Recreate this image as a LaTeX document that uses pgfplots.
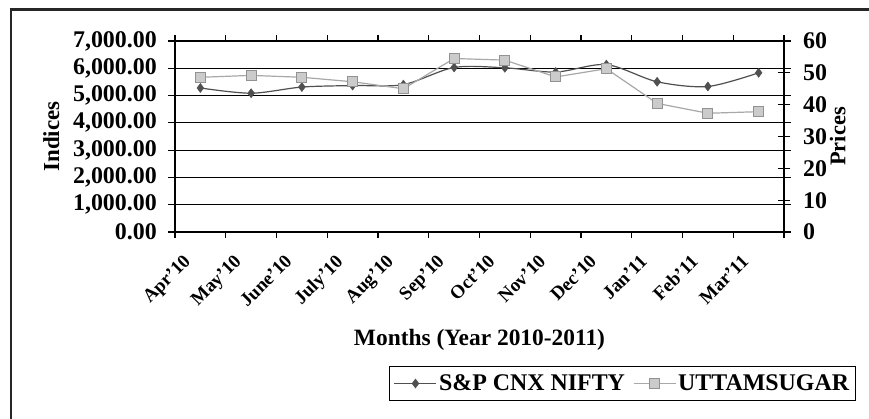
\documentclass[border=0pt]{standalone}
\usepackage{fontspec}
\setmainfont{Liberation Serif}
\usepackage{pgfplots}
\pgfplotsset{compat=1.18}
\definecolor{niftyc}{HTML}{505050}
\definecolor{uttamline}{HTML}{A8A8A8}
\definecolor{uttamfill}{HTML}{CBCBCB}
\definecolor{uttamedge}{HTML}{929292}
\begin{document}
\begin{tikzpicture}
\useasboundingbox (0,0) rectangle (869bp,-419bp);
\fill[white] (0,0) rectangle (869bp,-419bp);
\begin{axis}[
  at={(175bp,-232bp)}, anchor=south west,
  scale only axis, width=609bp, height=191bp,
  xmin=0.5, xmax=12.5, ymin=0, ymax=7000,
  ytick={0,1000,...,7000},
  ymajorgrids, grid style={black, line width=1.1bp},
  axis line style={black, line width=1.1bp},
  tick style={black, line width=1.1bp},
  ytick align=outside, major tick length=7bp,
  xtick={1,...,12},
  xticklabels={Apr'10,May'10,June'10,July'10,Aug'10,Sep'10,Oct'10,Nov'10,Dec'10,Jan'11,Feb'11,Mar'11},
  x tick style={draw=none},
  extra x ticks={0.5,1.5,...,12.5},
  extra x tick labels={},
  extra x tick style={xtick align=outside, x tick style={draw=black, line width=1.1bp}, major tick length=6bp},
  xticklabel style={xshift=-18bp, yshift=-20bp, font=\fontsize{19}{19}\selectfont\bfseries, rotate=45, anchor=north east, inner sep=1bp},
  yticklabel style={font=\fontsize{24}{24}\selectfont\bfseries, inner sep=0bp, xshift=-11bp},
  /pgf/number format/.cd, fixed, fixed zerofill, precision=2, 1000 sep={,}, assume math mode=true,
  /pgfplots/.cd,
  scaled y ticks=false,
  ylabel={Indices},
  ylabel style={font=\fontsize{23}{23}\selectfont\bfseries, at={(axis description cs:-0.203,0.5)}, anchor=center},
  xlabel={Months (Year 2010-2011)},
  xlabel style={font=\fontsize{23.5}{23.5}\selectfont\bfseries, at={(axis description cs:0.5,-0.565)}, anchor=center},
  clip=false,
]
\addplot[color=niftyc, line width=1.2bp, smooth, tension=0.5, mark=diamond*, mark size=4.5bp, mark options={fill=niftyc, draw=niftyc, line width=0.5bp}]
  coordinates {(1,5278) (2,5086) (3,5312) (4,5368) (5,5402) (6,6030) (7,6018) (8,5863) (9,6135) (10,5506) (11,5333) (12,5834)};
\end{axis}
\begin{axis}[
  at={(175bp,-232bp)}, anchor=south west,
  scale only axis, width=609bp, height=191bp,
  xmin=0.5, xmax=12.5, ymin=0, ymax=60,
  ytick={0,10,...,60},
  axis x line=none,
  axis y line*=right,
  axis line style={black, line width=1.1bp, -},
  tick style={black, line width=1.1bp},
  ytick align=center, major tick length=12bp,
  yticklabel style={font=\fontsize{24}{24}\selectfont\bfseries, inner sep=0bp, xshift=13bp},
  /pgf/number format/assume math mode=true,
  ylabel={Prices},
  ylabel style={font=\fontsize{22.5}{22.5}\selectfont\bfseries, at={(axis description cs:1.088,0.5)}, anchor=center},
  legend style={at={(axis description cs:0.7348,-0.7932)}, anchor=center, draw=black, line width=1.1bp,
    font=\fontsize{24}{24}\selectfont\bfseries, legend columns=-1, inner xsep=4bp, inner ysep=6bp,
    /tikz/every even column/.append style={column sep=6bp}},
  legend image code/.code={\draw[#1] (0bp,0bp) -- (21bp,0bp) -- (42bp,0bp); \draw[#1, only marks] plot coordinates {(21bp,0bp)};},
  clip=false,
]
\addlegendimage{color=niftyc, line width=1.2bp, mark=diamond*, mark size=4.5bp, mark options={fill=niftyc, draw=niftyc, line width=0.5bp}}
\addlegendentry{S\&P CNX NIFTY}
\addplot[color=uttamline, line width=1.2bp, mark=square*, mark size=5bp, mark options={fill=uttamfill, draw=uttamedge, line width=1bp}]
  coordinates {(1,48.6) (2,49.2) (3,48.6) (4,47.2) (5,45.0) (6,54.5) (7,54.0) (8,48.7) (9,51.3) (10,40.4) (11,37.3) (12,37.8)};
\addlegendentry{UTTAMSUGAR}
\end{axis}
\draw[line width=2.5bp, color=black!85] (11bp,-419bp) -- (11bp,-9.5bp) -- (869bp,-9.5bp);
\end{tikzpicture}
\end{document}
